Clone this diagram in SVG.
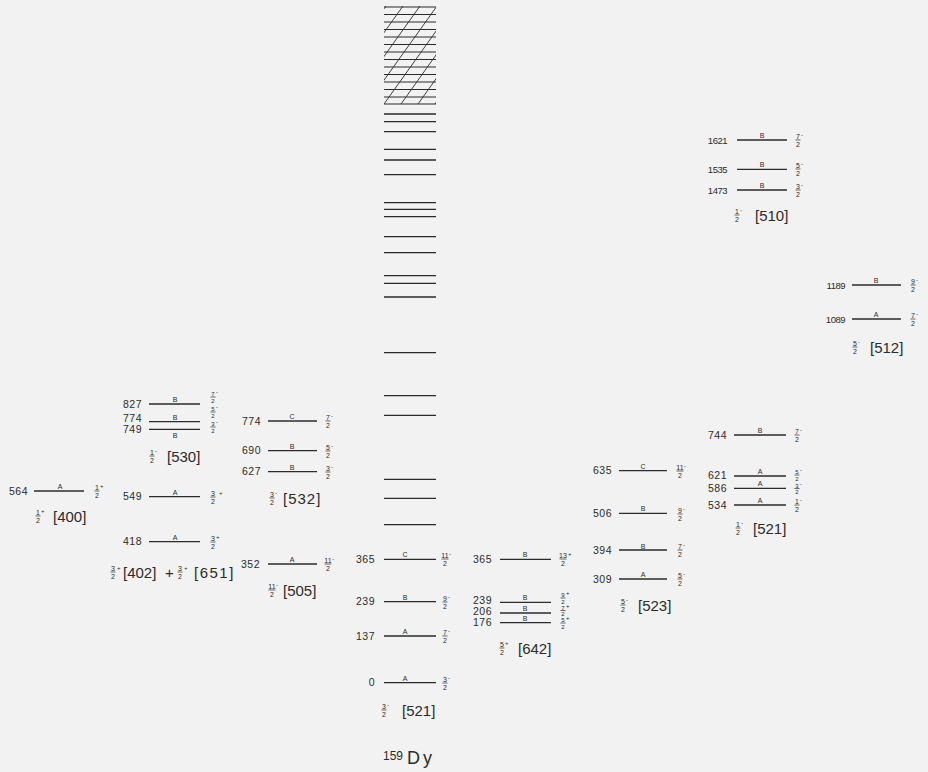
<svg xmlns="http://www.w3.org/2000/svg" width="928" height="772" viewBox="0 0 928 772">
<defs>
<clipPath id="hc"><rect x="384" y="6" width="52" height="98.5"/></clipPath>
</defs>
<style>
.ln{stroke:#2b2b2b;stroke-width:1.3;fill:none}
.hl{stroke:#2b2b2b;stroke-width:1.2;fill:none}
.hd{stroke:#2b2b2b;stroke-width:0.9;fill:none}
.e{font-family:"Liberation Sans",Arial,sans-serif;font-size:10.5px;fill:#2b2b2b;text-anchor:end;letter-spacing:0.5px}
.e4{font-family:"Liberation Sans",Arial,sans-serif;font-size:9.5px;fill:#2b2b2b;text-anchor:end;letter-spacing:-0.5px}
.l{font-family:"Liberation Sans",Arial,sans-serif;font-size:7px;fill:#2b2b2b;text-anchor:middle}
.f text{font-family:"Liberation Sans",Arial,sans-serif;font-size:7px;fill:#2b2b2b;text-anchor:middle}
.f path{stroke:#2b2b2b;stroke-width:0.7}
.f text.p{text-anchor:start;font-size:6px}
.s text{font-size:6px}
.b{font-family:"Liberation Sans",Arial,sans-serif;font-size:15px;fill:#2b2b2b}
</style>
<rect width="928" height="772" fill="#f2f2f2"/>

<g id="band-400">
<path class="ln" d="M34 491H84"/>
<text class="e" x="28" y="494.5">564</text>
<text class="l" x="60" y="489">A</text>
<g class="f" transform="translate(97,491)"><text y="-1.5">1</text><path d="M-2.5 0h5"/><text y="6.5">2</text><text class="p" x="3" y="-3">+</text></g>
<g class="f" transform="translate(38,516)"><text y="-1.5">1</text><path d="M-2.5 0h5"/><text y="6.5">2</text><text class="p" x="3" y="-3">+</text></g>
<text class="b" x="53" y="521.5">[400]</text>
</g>

<g id="band-530">
<path class="ln" d="M149 404H200M149 421.7H200M149 429.3H200"/>
<text class="e" x="142" y="407.5">827</text>
<text class="e" x="142" y="422">774</text>
<text class="e" x="142" y="433">749</text>
<text class="l" x="175" y="402">B</text>
<text class="l" x="175" y="419.5">B</text>
<text class="l" x="175" y="437.5">B</text>
<g class="f s" transform="translate(213,397)"><text y="-1">7</text><path d="M-2.5 0h5"/><text y="5.5">2</text><text class="p" x="3" y="-3">-</text></g>
<g class="f s" transform="translate(213,412)"><text y="-1">5</text><path d="M-2.5 0h5"/><text y="5.5">2</text><text class="p" x="3" y="-3">-</text></g>
<g class="f s" transform="translate(213,427)"><text y="-1">3</text><path d="M-2.5 0h5"/><text y="5.5">2</text><text class="p" x="3" y="-3">-</text></g>
<g class="f" transform="translate(152,456)"><text y="-1.5">1</text><path d="M-2.5 0h5"/><text y="6.5">2</text><text class="p" x="3" y="-3">-</text></g>
<text class="b" x="167" y="461.5">[530]</text>
</g>

<g id="band-402-651">
<path class="ln" d="M149 496.7H200M149 541.7H200"/>
<text class="e" x="142" y="500">549</text>
<text class="e" x="142" y="545">418</text>
<text class="l" x="175" y="494.5">A</text>
<text class="l" x="175" y="539.5">A</text>
<g class="f" transform="translate(213,497)"><text y="-1.5">3</text><path d="M-2.5 0h5"/><text y="6.5">2</text><text class="p" x="6" y="-2">+</text></g>
<g class="f" transform="translate(213,542)"><text y="-1.5">3</text><path d="M-2.5 0h5"/><text y="6.5">2</text><text class="p" x="3" y="-3">+</text></g>
<g class="f" transform="translate(113,572)"><text y="-1.5">3</text><path d="M-2.5 0h5"/><text y="6.5">2</text><text class="p" x="4" y="-2">+</text></g>
<text class="b" x="123" y="577.5" font-size="16">[402]</text>
<text class="b" x="165" y="577.5" font-size="16">+</text>
<g class="f" transform="translate(180,572)"><text y="-1.5">3</text><path d="M-2.5 0h5"/><text y="6.5">2</text><text class="p" x="4" y="-2">+</text></g>
<text class="b" x="194" y="578" font-size="19" letter-spacing="1.5">[651]</text>
</g>

<g id="band-532">
<path class="ln" d="M268 421H317M268 450.7H317M268 471.7H317"/>
<text class="e" x="261" y="424.5">774</text>
<text class="e" x="261" y="454">690</text>
<text class="e" x="261" y="475">627</text>
<text class="l" x="292" y="419">C</text>
<text class="l" x="292" y="448.5">B</text>
<text class="l" x="292" y="469.5">B</text>
<g class="f" transform="translate(328,421)"><text y="-1.5">7</text><path d="M-2.5 0h5"/><text y="6.5">2</text><text class="p" x="3" y="-3">-</text></g>
<g class="f" transform="translate(328,451)"><text y="-1.5">5</text><path d="M-2.5 0h5"/><text y="6.5">2</text><text class="p" x="3" y="-3">-</text></g>
<g class="f" transform="translate(328,472)"><text y="-1.5">3</text><path d="M-2.5 0h5"/><text y="6.5">2</text><text class="p" x="3" y="-3">-</text></g>
<g class="f" transform="translate(272,498)"><text y="-1.5">3</text><path d="M-2.5 0h5"/><text y="6.5">2</text><text class="p" x="3" y="-3">-</text></g>
<text class="b" x="283" y="503.5" letter-spacing="1">[532]</text>
</g>

<g id="band-505">
<path class="ln" d="M268 564H317"/>
<text class="e" x="260" y="567.5">352</text>
<text class="l" x="292" y="562">A</text>
<g class="f" transform="translate(328,564)"><text y="-1.5">11</text><path d="M-3.5 0h7"/><text y="6.5">2</text><text class="p" x="4" y="-3">-</text></g>
<g class="f" transform="translate(272,590)"><text y="-1.5">11</text><path d="M-3.5 0h7"/><text y="6.5">2</text><text class="p" x="4" y="-3">-</text></g>
<text class="b" x="283" y="595.5">[505]</text>
</g>

<g id="column">
<path class="hl" d="M384 7H436M384 14.5H436M384 22H436M384 29.5H436M384 37H436M384 44.5H436M384 52H436M384 59.5H436M384 67H436M384 74.5H436M384 82H436M384 89.5H436M384 97H436M384 104H436"/>
<g clip-path="url(#hc)">
<path class="hd" d="M316 104L386 6M333 104L403 6M350 104L420 6M367 104L437 6M384 104L454 6M401 104L471 6M418 104L488 6M435 104L505 6"/>
</g>
<path class="ln" d="M384 114H436M384 121.7H436M384 131.7H436M384 149.3H436M384 160H436M384 174.7H436M384 202.7H436M384 209.3H436M384 216.7H436M384 236.7H436M384 252.7H436M384 275.7H436M384 283.3H436M384 297H436M384 352.7H436M384 395.7H436M384 415.3H436M384 479.3H436M384 498.3H436M384 524.7H436"/>
</g>

<g id="band-521-gs">
<path class="ln" d="M384 559.3H436M384 601.7H436M384 636H436M384 682.7H436"/>
<text class="e" x="375" y="563">365</text>
<text class="e" x="375" y="605">239</text>
<text class="e" x="375" y="639.5">137</text>
<text class="e" x="375" y="686">0</text>
<text class="l" x="405" y="557">C</text>
<text class="l" x="405" y="600">B</text>
<text class="l" x="405" y="634">A</text>
<text class="l" x="405" y="680.5">A</text>
<g class="f" transform="translate(445,559)"><text y="-1.5">11</text><path d="M-3.5 0h7"/><text y="6.5">2</text><text class="p" x="4" y="-3">-</text></g>
<g class="f" transform="translate(445,602)"><text y="-1.5">9</text><path d="M-2.5 0h5"/><text y="6.5">2</text><text class="p" x="3" y="-3">-</text></g>
<g class="f" transform="translate(445,636)"><text y="-1.5">7</text><path d="M-2.5 0h5"/><text y="6.5">2</text><text class="p" x="3" y="-3">-</text></g>
<g class="f" transform="translate(445,683)"><text y="-1.5">3</text><path d="M-2.5 0h5"/><text y="6.5">2</text><text class="p" x="3" y="-3">-</text></g>
<g class="f" transform="translate(384,710)"><text y="-1.5">3</text><path d="M-2.5 0h5"/><text y="6.5">2</text><text class="p" x="3" y="-3">-</text></g>
<text class="b" x="402" y="715.5">[521]</text>
</g>

<g id="band-642">
<path class="ln" d="M500 559.3H551M500 602.3H551M500 613H551M500 622.7H551"/>
<text class="e" x="492" y="563">365</text>
<text class="e" x="492" y="604">239</text>
<text class="e" x="492" y="615">206</text>
<text class="e" x="492" y="626">176</text>
<text class="l" x="525" y="600">B</text>
<text class="l" x="525" y="557">B</text>
<text class="l" x="525" y="611">B</text>
<text class="l" x="525" y="621">B</text>
<g class="f" transform="translate(563,559)"><text y="-1.5">13</text><path d="M-3.5 0h7"/><text y="6.5">2</text><text class="p" x="5" y="-3">+</text></g>
<g class="f s" transform="translate(563,598)"><text y="-1">9</text><path d="M-2.5 0h5"/><text y="5.5">2</text><text class="p" x="3" y="-3">+</text></g>
<g class="f s" transform="translate(563,610.5)"><text y="-1">7</text><path d="M-2.5 0h5"/><text y="5.5">2</text><text class="p" x="3" y="-3">+</text></g>
<g class="f s" transform="translate(563,623)"><text y="-1">5</text><path d="M-2.5 0h5"/><text y="5.5">2</text><text class="p" x="3" y="-3">+</text></g>
<g class="f" transform="translate(502,648)"><text y="-1.5">5</text><path d="M-2.5 0h5"/><text y="6.5">2</text><text class="p" x="3" y="-3">+</text></g>
<text class="b" x="518" y="653.5">[642]</text>
</g>

<g id="band-523">
<path class="ln" d="M619 470.7H667M619 513.3H667M619 550H667M619 579H667"/>
<text class="e" x="612" y="474">635</text>
<text class="e" x="612" y="517">506</text>
<text class="e" x="612" y="553.5">394</text>
<text class="e" x="612" y="582.5">309</text>
<text class="l" x="643" y="468.5">C</text>
<text class="l" x="643" y="511">B</text>
<text class="l" x="643" y="548.5">B</text>
<text class="l" x="643" y="577">A</text>
<g class="f" transform="translate(680,471)"><text y="-1.5">11</text><path d="M-3.5 0h7"/><text y="6.5">2</text><text class="p" x="4" y="-3">-</text></g>
<g class="f" transform="translate(680,514)"><text y="-1.5">9</text><path d="M-2.5 0h5"/><text y="6.5">2</text><text class="p" x="3" y="-3">-</text></g>
<g class="f" transform="translate(680,550)"><text y="-1.5">7</text><path d="M-2.5 0h5"/><text y="6.5">2</text><text class="p" x="3" y="-3">-</text></g>
<g class="f" transform="translate(680,579)"><text y="-1.5">5</text><path d="M-2.5 0h5"/><text y="6.5">2</text><text class="p" x="3" y="-3">-</text></g>
<g class="f" transform="translate(623,605)"><text y="-1.5">5</text><path d="M-2.5 0h5"/><text y="6.5">2</text><text class="p" x="3" y="-3">-</text></g>
<text class="b" x="638" y="610.5">[523]</text>
</g>

<g id="band-521">
<path class="ln" d="M734 435H786M734 476H786M734 488.3H786M734 505H786"/>
<text class="e" x="727" y="438.5">744</text>
<text class="e" x="727" y="479">621</text>
<text class="e" x="727" y="491.5">586</text>
<text class="e" x="727" y="508.5">534</text>
<text class="l" x="760" y="433">B</text>
<text class="l" x="760" y="474">A</text>
<text class="l" x="760" y="486.3">A</text>
<text class="l" x="760" y="503">A</text>
<g class="f" transform="translate(797,435)"><text y="-1.5">7</text><path d="M-2.5 0h5"/><text y="6.5">2</text><text class="p" x="3" y="-3">-</text></g>
<g class="f s" transform="translate(797,475)"><text y="-1">5</text><path d="M-2.5 0h5"/><text y="5.5">2</text><text class="p" x="3" y="-3">-</text></g>
<g class="f s" transform="translate(797,488.5)"><text y="-1">3</text><path d="M-2.5 0h5"/><text y="5.5">2</text><text class="p" x="3" y="-3">-</text></g>
<g class="f" transform="translate(797,505)"><text y="-1.5">1</text><path d="M-2.5 0h5"/><text y="6.5">2</text><text class="p" x="3" y="-3">-</text></g>
<g class="f" transform="translate(738,528)"><text y="-1.5">1</text><path d="M-2.5 0h5"/><text y="6.5">2</text><text class="p" x="3" y="-3">-</text></g>
<text class="b" x="753" y="533.5">[521]</text>
</g>

<g id="band-510">
<path class="ln" d="M737 140H787M737 169.3H787M737 190H787"/>
<text class="e4" x="727" y="143.5">1621</text>
<text class="e4" x="727" y="173">1535</text>
<text class="e4" x="727" y="193.5">1473</text>
<text class="l" x="762" y="138">B</text>
<text class="l" x="762" y="167.3">B</text>
<text class="l" x="762" y="188">B</text>
<g class="f" transform="translate(798,140)"><text y="-1.5">7</text><path d="M-2.5 0h5"/><text y="6.5">2</text><text class="p" x="3" y="-3">-</text></g>
<g class="f" transform="translate(798,169)"><text y="-1.5">5</text><path d="M-2.5 0h5"/><text y="6.5">2</text><text class="p" x="3" y="-3">-</text></g>
<g class="f" transform="translate(798,190)"><text y="-1.5">3</text><path d="M-2.5 0h5"/><text y="6.5">2</text><text class="p" x="3" y="-3">-</text></g>
<g class="f" transform="translate(737,215)"><text y="-1.5">1</text><path d="M-2.5 0h5"/><text y="6.5">2</text><text class="p" x="3" y="-3">-</text></g>
<text class="b" x="755" y="220.5">[510]</text>
</g>

<g id="band-512">
<path class="ln" d="M852 285H901M852 319H901"/>
<text class="e4" x="845" y="288.5">1189</text>
<text class="e4" x="845" y="322.5">1089</text>
<text class="l" x="876" y="283">B</text>
<text class="l" x="876" y="317">A</text>
<g class="f" transform="translate(913,285)"><text y="-1.5">9</text><path d="M-2.5 0h5"/><text y="6.5">2</text><text class="p" x="3" y="-3">-</text></g>
<g class="f" transform="translate(913,319)"><text y="-1.5">7</text><path d="M-2.5 0h5"/><text y="6.5">2</text><text class="p" x="3" y="-3">-</text></g>
<g class="f" transform="translate(855,347)"><text y="-1.5">5</text><path d="M-2.5 0h5"/><text y="6.5">2</text><text class="p" x="3" y="-3">-</text></g>
<text class="b" x="870" y="352.5">[512]</text>
</g>

<g id="title">
<text font-family="Liberation Sans, Arial, sans-serif" font-size="12" fill="#2b2b2b" x="383" y="760">159</text>
<text font-family="Liberation Sans, Arial, sans-serif" font-size="18" fill="#2b2b2b" x="407" y="764" letter-spacing="3">Dy</text>
</g>
<g id="connectors"/>
</svg>
